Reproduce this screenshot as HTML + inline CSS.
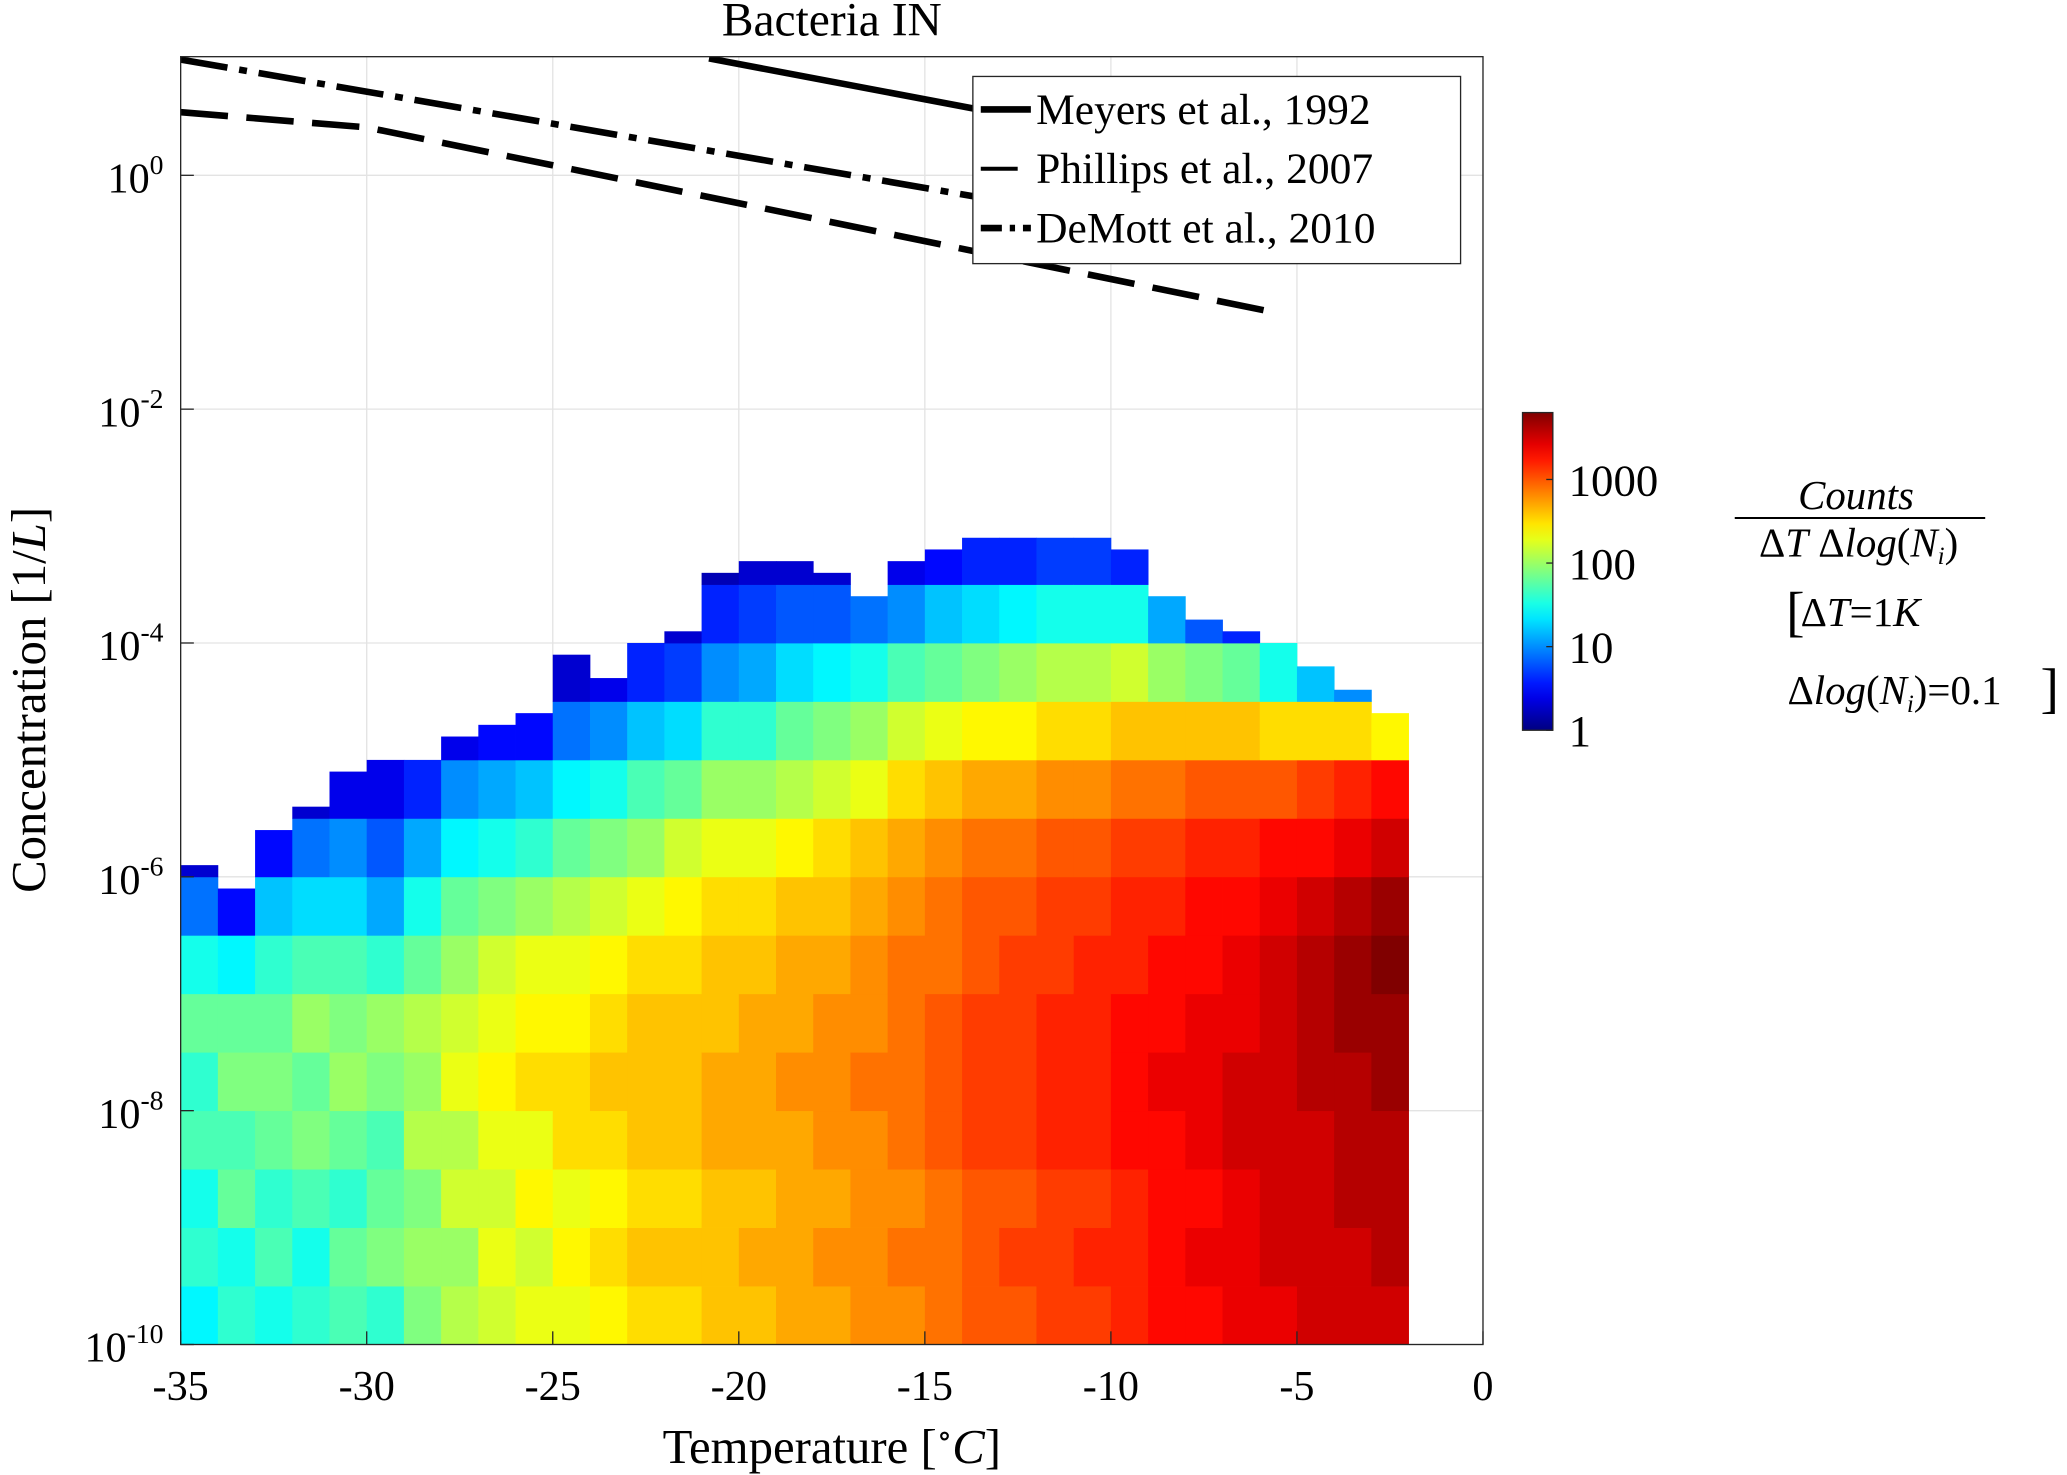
<!DOCTYPE html>
<html><head><meta charset="utf-8"><style>
html,body{margin:0;padding:0;background:#fff}
svg{display:block}
text{font-family:"Liberation Serif","DejaVu Serif",serif;fill:#000}
</style></head><body>
<svg id="chart" width="2067" height="1475" viewBox="0 0 1568 1119" xmlns="http://www.w3.org/2000/svg">
<defs><linearGradient id="jet" x1="0" y1="1" x2="0" y2="0"></linearGradient>
<clipPath id="plotclip"><rect x="137" y="43" width="988" height="977"/></clipPath></defs>
<rect x="137" y="43" width="988" height="977" fill="#fff"/>
<g id="grid"></g>
<g id="heat"></g>
<g id="lines" clip-path="url(#plotclip)"></g>
<rect x="137" y="43" width="988" height="977" fill="none" stroke="#262626" stroke-width="1"/>
<g id="ticks"></g>
<text x="631" y="27" text-anchor="middle" font-size="36">Bacteria IN</text>
<text x="631" y="1110" text-anchor="middle" font-size="37">Temperature [<tspan font-size="24" dy="-13">∘</tspan><tspan dy="13" font-style="italic">C</tspan>]</text>
<text transform="translate(34,531) rotate(-90)" text-anchor="middle" font-size="37">Concentration [1/<tspan font-style="italic">L</tspan>]</text>
<g>
<rect x="738" y="58" width="370" height="142" fill="#fff" stroke="#262626" stroke-width="1"/>
<line x1="744" y1="83" x2="782" y2="83" stroke="#000" stroke-width="5"/>
<text x="786" y="94" font-size="33">Meyers et al., 1992</text>
<line x1="744" y1="128" x2="772" y2="128" stroke="#000" stroke-width="3"/>
<text x="786" y="139" font-size="33">Phillips et al., 2007</text>
<path d="M744 173 H760 M766 173 H770 M776 173 H782" stroke="#000" stroke-width="5"/>
<text x="786" y="184" font-size="33">DeMott et al., 2010</text>
</g>
<rect x="1155" y="313" width="23" height="241" fill="url(#jet)" stroke="#262626" stroke-width="1"/>
<g id="cbticks"></g>
<g font-size="31">
<text x="1408" y="386" text-anchor="middle" font-style="italic">Counts</text>
<line x1="1316" y1="393" x2="1506" y2="393" stroke="#000" stroke-width="1.5"/>
<text x="1410" y="422" text-anchor="middle">Δ<tspan font-style="italic">T</tspan> Δ<tspan font-style="italic">log</tspan>(<tspan font-style="italic">N<tspan font-size="19" dy="6">i</tspan></tspan><tspan dy="-6">)</tspan></text>
<text x="1355" y="478" font-size="42">[</text>
<text x="1366" y="475">Δ<tspan font-style="italic">T</tspan>=1<tspan font-style="italic">K</tspan></text>
<text x="1356" y="534">Δ<tspan font-style="italic">log</tspan>(<tspan font-style="italic">N<tspan font-size="19" dy="6">i</tspan></tspan><tspan dy="-6">)=0.1</tspan></text>
<text x="1548" y="536" font-size="42">]</text>
</g>
</svg>
<script>
const NS='http://www.w3.org/2000/svg';
const xTicks=[-35,-30,-25,-20,-15,-10,-5,0];
const yTickExps=[-10,-8,-6,-4,-2,0];
const cbTicks=[1,10,100,1000];
const tempBins=[-35,-34,-33,-32,-31,-30,-29,-28,-27,-26,-25,-24,-23,-22,-21,-20,-19,-18,-17,-16,-15,-14,-13,-12,-11,-10,-9,-8,-7,-6,-5,-4,-3];
const colTop=[-5.9,-6.1,-5.6,-5.4,-5.1,-5.0,-5.0,-4.8,-4.7,-4.6,-4.1,-4.3,-4.0,-3.9,-3.4,-3.3,-3.3,-3.4,-3.6,-3.3,-3.2,-3.1,-3.1,-3.1,-3.1,-3.2,-3.6,-3.8,-3.9,-4.0,-4.2,-4.4,-4.6];
const bandLow=[-10,-9.5,-9,-8.5,-8,-7.5,-7,-6.5,-6,-5.5,-5,-4.5,-4,-3.5];
const logCounts=[
[1.4,1.6,1.5,1.7,1.6,1.8,1.5,0.9,0.3],
[1.6,1.5,1.8,1.7,1.9,1.8,1.4,0.5],
[1.5,1.7,1.6,1.8,1.9,1.8,1.6,1.2,0.5],
[1.6,1.5,1.7,1.9,1.8,2.0,1.7,1.3,0.9,0.3],
[1.7,1.8,1.6,1.8,2.0,1.9,1.7,1.3,1.0,0.4],
[1.6,1.9,1.8,1.7,1.9,2.0,1.6,1.1,0.8,0.4],
[1.9,2.0,1.9,2.1,2.0,2.1,1.8,1.5,1.1,0.6],
[2.1,2.0,2.2,2.1,2.3,2.2,2.0,1.8,1.4,1.0,0.4],
[2.2,2.3,2.2,2.3,2.4,2.3,2.2,1.9,1.5,1.1,0.5],
[2.3,2.2,2.4,2.3,2.5,2.4,2.3,2.0,1.6,1.2,0.5],
[2.3,2.4,2.3,2.5,2.5,2.4,2.3,2.1,1.8,1.4,0.9,0.3],
[2.4,2.5,2.4,2.5,2.6,2.5,2.4,2.2,1.9,1.5,1.0,0.4],
[2.5,2.6,2.5,2.6,2.6,2.6,2.5,2.3,2.0,1.7,1.2,0.6],
[2.5,2.6,2.5,2.6,2.6,2.6,2.5,2.4,2.2,1.8,1.3,0.7,0.3],
[2.6,2.6,2.6,2.7,2.7,2.6,2.6,2.5,2.3,2.0,1.6,1.0,0.6,0.2],
[2.6,2.7,2.6,2.7,2.7,2.7,2.6,2.5,2.3,2.0,1.6,1.1,0.7,0.3],
[2.7,2.7,2.7,2.7,2.8,2.7,2.7,2.6,2.4,2.1,1.8,1.3,0.8,0.3],
[2.7,2.8,2.7,2.8,2.8,2.8,2.7,2.6,2.5,2.2,1.9,1.4,0.8,0.3],
[2.8,2.8,2.8,2.8,2.9,2.8,2.8,2.7,2.6,2.3,2.0,1.5,0.9],
[2.8,2.9,2.8,2.9,2.9,2.9,2.9,2.8,2.7,2.5,2.2,1.7,1.0,0.4],
[2.9,2.9,2.9,3.0,3.0,3.0,2.9,2.9,2.8,2.6,2.3,1.8,1.2,0.5],
[3.0,3.0,3.0,3.1,3.1,3.1,3.0,3.0,2.9,2.7,2.4,1.9,1.3,0.6],
[3.0,3.1,3.0,3.1,3.1,3.1,3.1,3.0,2.9,2.7,2.4,2.0,1.4,0.6],
[3.1,3.1,3.1,3.2,3.2,3.2,3.1,3.1,3.0,2.8,2.5,2.1,1.5,0.7],
[3.1,3.2,3.1,3.2,3.2,3.2,3.2,3.1,3.0,2.8,2.5,2.1,1.5,0.7],
[3.2,3.2,3.2,3.3,3.3,3.3,3.2,3.2,3.1,2.9,2.6,2.2,1.5,0.6],
[3.3,3.3,3.3,3.3,3.4,3.3,3.3,3.2,3.1,2.9,2.6,2.0,1.1],
[3.3,3.4,3.3,3.4,3.4,3.4,3.3,3.3,3.2,3.0,2.6,1.9,0.8],
[3.4,3.4,3.4,3.5,3.5,3.4,3.4,3.3,3.2,3.0,2.6,1.8,0.6],
[3.4,3.5,3.5,3.5,3.5,3.5,3.5,3.4,3.3,3.0,2.5,1.5],
[3.5,3.5,3.5,3.5,3.6,3.6,3.6,3.5,3.3,3.1,2.5,1.2],
[3.5,3.5,3.6,3.6,3.6,3.7,3.7,3.6,3.4,3.2,2.5,1.0],
[3.5,3.6,3.6,3.6,3.7,3.7,3.8,3.7,3.5,3.3,2.4]
];
const meyersT=[-20.8,-13.5];
const meyersLog=[1.0,0.56];
const phillipsT=[-35,-30,-5.8];
const phillipsLog=[0.54,0.41,-1.16];
const demottT=[-35,-13.5];
const demottLog=[0.99,-0.19];

const xS=t=>137+(t+35)/35*988;
const yS=l=>1020-(l+10)*88.7;
const cbMax=3.8;
const cbS=l=>554-l/cbMax*241;
function jet(v){const t=Math.max(0,Math.min(1,v));const c=x=>Math.round(255*Math.max(0,Math.min(1,1.5-Math.abs(4*t-x))));return `rgb(${c(3)},${c(2)},${c(1)})`;}
function mk(tag,attrs,parent){const e=document.createElementNS(NS,tag);for(const k in attrs)e.setAttribute(k,attrs[k]);parent.appendChild(e);return e;}

const grid=document.getElementById('grid'),ticks=document.getElementById('ticks');
xTicks.forEach(t=>{
 const l=mk('line',{x1:xS(t),x2:xS(t),y1:43,y2:1020,stroke:'#e3e3e3','stroke-width':1},grid);
 
 
 mk('line',{x1:xS(t),x2:xS(t),y1:1020,y2:1010,stroke:'#262626'},ticks);
 const tx=mk('text',{x:xS(t),y:1062,'text-anchor':'middle','font-size':32},ticks);tx.textContent=String(t);
 
 
});
yTickExps.forEach(e=>{
 const l=mk('line',{x1:137,x2:1125,y1:yS(e),y2:yS(e),stroke:'#e3e3e3','stroke-width':1},grid);
 
 
 mk('line',{x1:137,x2:147,y1:yS(e),y2:yS(e),stroke:'#262626'},ticks);
 const tx=mk('text',{x:124,y:yS(e)+13,'text-anchor':'end','font-size':32},ticks);
 tx.innerHTML='10<tspan font-size="21" dy="-14">'+e+'</tspan>';
 
 
});
const heat=document.getElementById('heat');
tempBins.forEach((t,i)=>{
 logCounts[i].forEach((v,j)=>{
  if(v==null)return;
  const lo=bandLow[j],hi=Math.min(lo+0.5,colTop[i]);
  if(hi<=lo)return;
  const r=mk('rect',{x:xS(t),y:yS(hi),width:xS(t+1)-xS(t)+0.3,height:yS(lo)-yS(hi)+0.3,fill:jet(v/cbMax)},heat);
  
  
 });
});
const lines=document.getElementById('lines');
function line(T,L,name,w,dash){
 const d=T.map((t,i)=>(i?'L':'M')+xS(t)+' '+yS(L[i])).join(' ');
 const p=mk('path',{d:d,fill:'none',stroke:'#000','stroke-width':w},lines);
 if(dash)p.setAttribute('stroke-dasharray',dash);
 
 
}
line(meyersT,meyersLog,'meyers-1992-line',5,null);
line(phillipsT,phillipsLog,'phillips-2007-line',5,'36 14');
line(demottT,demottLog,'demott-2010-line',5,'36 9 6 9');
const g=document.getElementById('jet');
for(let i=0;i<=20;i++){mk('stop',{offset:(i/20),'stop-color':jet(i/20)},g);}
const cbt=document.getElementById('cbticks');
cbTicks.forEach(c=>{
 const y=cbS(Math.log10(c));
 mk('line',{x1:1173,x2:1178,y1:y,y2:y,stroke:'#262626'},cbt);
 const tx=mk('text',{x:1190,y:y+12,'font-size':34},cbt);tx.textContent=c;
 
 
});
</script>
</body></html>
